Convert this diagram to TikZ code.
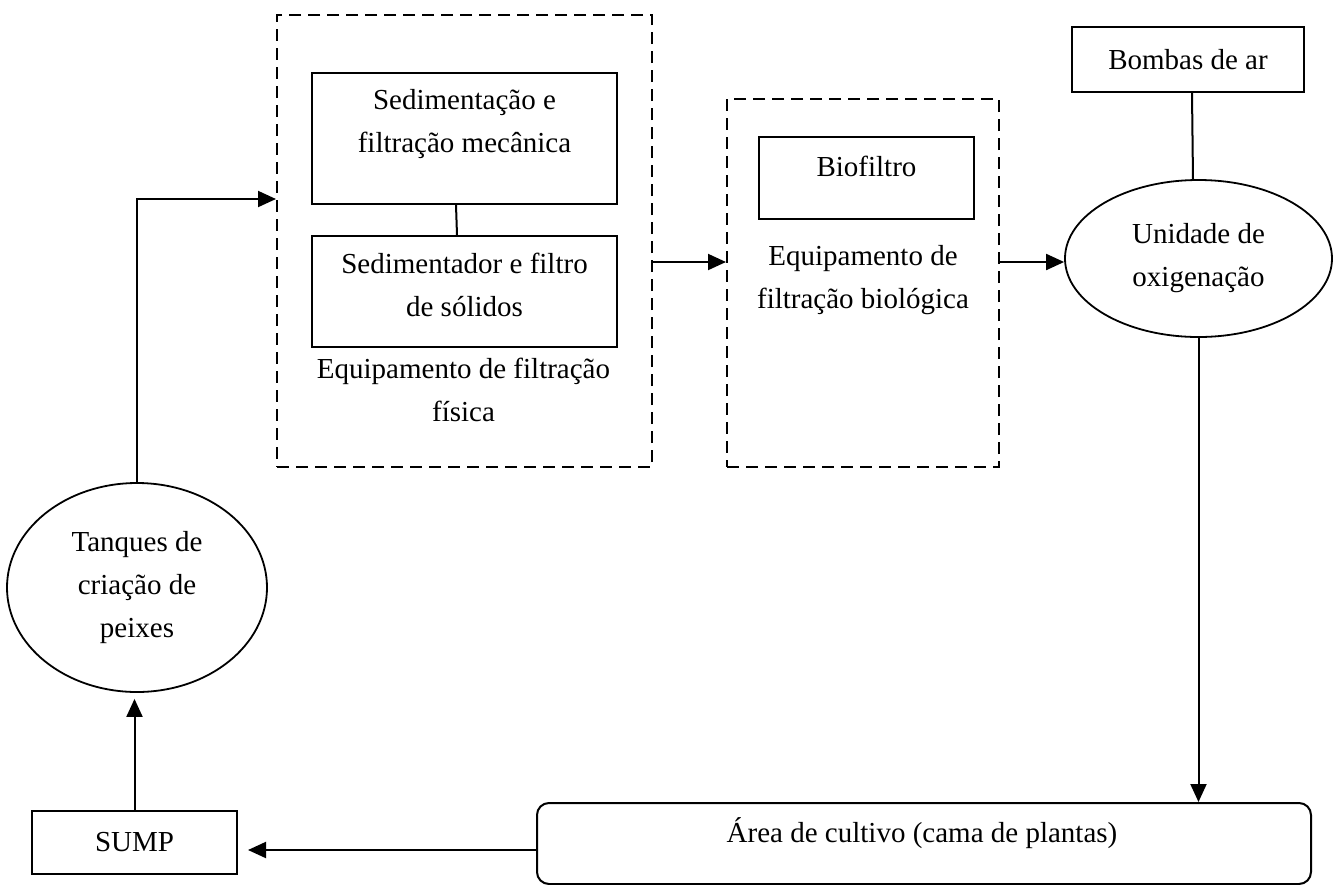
\documentclass[tikz,border=0pt]{standalone}
\usepackage{fontspec}
\setmainfont{Liberation Serif}
\usetikzlibrary{fit}
\usetikzlibrary{shapes.geometric}
\usetikzlibrary{arrows.meta}

\tikzset{
	box/.style={draw, line width=1pt, inner sep=0pt},
	dbox/.style={draw, line width=1pt, dash pattern=on 6pt off 3.5pt, inner sep=0pt},
	oval/.style={draw, ellipse, line width=0.9pt, inner sep=0pt, align=center},
	txt/.style={align=center, inner sep=0pt},
	link/.style={line width=1pt},
	flow/.style={line width=1pt, -{Triangle[length=9pt,width=8pt]}},
}

\begin{document}
\begin{tikzpicture}[x=0.5pt,y=-0.5pt,font=\fontsize{14.5}{21.5}\selectfont]

	\useasboundingbox (0,0) rectangle (1341,885);

	\node[dbox, fit={(277,15) (652,467)}] (phys) {};
	\node[box, fit={(312,73) (617,204)}] (sedmec) {};
	\node[box, fit={(312,236) (617,347)}] (sedsol) {};
	\node[txt] (sedmec-t) at (464.5,124) {Sedimentação e\\filtração mecânica};
	\node[txt] (sedsol-t) at (464.5,285) {Sedimentador e filtro\\de sólidos};
	\node[txt] (phys-t) at (463.5,390) {Equipamento de filtração\\física};

	\node[dbox, fit={(727,99) (999,467)}] (bio) {};
	\node[box, fit={(759,137) (974,219)}] (biof) {};
	\node[txt] (biof-t) at (866.5,166) {Biofiltro};
	\node[txt] (bio-t) at (863,280) {Equipamento de\\filtração biológica};

	\node[box, minimum width=116pt, minimum height=32.5pt] (bombas) at (1188,59.5) {Bombas de ar};
	\node[oval, minimum width=133.5pt, minimum height=78.5pt] (oxi) at (1198.5,258.5) {Unidade de\\oxigenação};

	\node[oval, minimum width=130pt, minimum height=104.5pt] (tanq) at (137,587.5) {Tanques de\\criação de\\peixes};
	\node[box, minimum width=102.5pt, minimum height=31.5pt] (sump) at (134.5,842.5) {SUMP};

	\node[box, rounded corners=6pt, fit={(537,803) (1311,884)}] (area) {};
	\node[txt] (area-t) at (922,833) {Área de cultivo (cama de plantas)};

	\coordinate (in) at (0,199);
	\coordinate (mid) at (0,262);
	\coordinate (ret) at (0,850);

	\draw[flow] (tanq.north) |- (in -| phys.west);
	\draw[link] ([xshift=-4.25pt]sedmec.south) -- ([xshift=-3.75pt]sedsol.north);
	\draw[flow] (mid -| phys.east) -- (mid -| bio.west);
	\draw[flow] (mid -| bio.east) -- (mid -| oxi.west);
	\draw[link] ([xshift=2pt]bombas.south) -- ([xshift=-2.75pt]oxi.north);
	\draw[flow] (oxi.south) -- (oxi.south |- area.north);
	\draw[flow, shorten >=5pt] (ret -| area.west) -- (ret -| sump.east);
	\draw[flow, shorten >=3pt] (sump.north) -- (sump.north |- tanq.south);

\end{tikzpicture}
\end{document}
